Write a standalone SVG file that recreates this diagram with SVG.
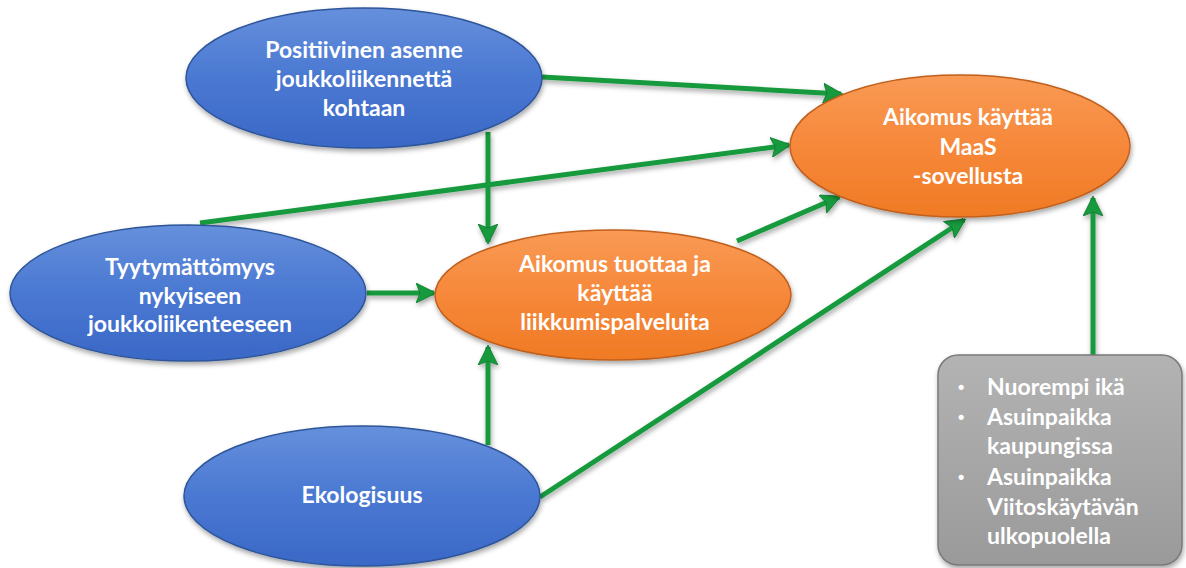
<svg xmlns="http://www.w3.org/2000/svg" width="1186" height="568" viewBox="0 0 1186 568">
<style>
.lbl{font-family:Lato,"Liberation Sans",sans-serif;font-weight:bold;font-size:23px;fill:#ffffff;text-anchor:middle}
.box{font-family:Lato,"Liberation Sans",sans-serif;font-weight:bold;font-size:23px;fill:#ffffff}
.bul{font-family:"Liberation Sans",sans-serif;font-weight:bold;font-size:18px;fill:#ffffff}
.blue{fill:url(#gBlue);stroke:#2d5599;stroke-width:1.5}
.orange{fill:url(#gOrange);stroke:#c0601c;stroke-width:1.5}
.conn{stroke:#169a3c;stroke-width:5;fill:none;marker-end:url(#ah)}
</style>
<defs>
<linearGradient id="gBlue" x1="0" y1="0" x2="0" y2="1">
<stop offset="0" stop-color="#6690dc"/><stop offset="0.5" stop-color="#4a78d2"/><stop offset="1" stop-color="#3a68c6"/>
</linearGradient>
<linearGradient id="gOrange" x1="0" y1="0" x2="0" y2="1">
<stop offset="0" stop-color="#f99a55"/><stop offset="0.5" stop-color="#f6883a"/><stop offset="1" stop-color="#f07a24"/>
</linearGradient>
<linearGradient id="gGray" x1="0" y1="0" x2="0" y2="1">
<stop offset="0" stop-color="#b3b3b3"/><stop offset="1" stop-color="#9a9a9a"/>
</linearGradient>
<filter id="sh" x="-10%" y="-10%" width="120%" height="130%">
<feDropShadow dx="1" dy="3" stdDeviation="2.5" flood-color="#000" flood-opacity="0.35"/>
</filter>
<marker id="ah" viewBox="0 0 10 10" refX="9" refY="5" markerWidth="4" markerHeight="4" orient="auto" markerUnits="strokeWidth">
<path d="M0,0 L10,5 L0,10 L2,5 Z" fill="#169a3c" stroke="#0f7a2e" stroke-width="0.4"/>
</marker>
</defs>

<g id="connectors" filter="url(#sh)">
<line class="conn" x1="542" y1="77" x2="841" y2="94"/>
<line class="conn" x1="488" y1="132" x2="488" y2="242"/>
<line class="conn" x1="200" y1="223" x2="789" y2="145"/>
<line class="conn" x1="367" y1="293" x2="434" y2="293"/>
<line class="conn" x1="488" y1="445" x2="488" y2="347"/>
<line class="conn" x1="540" y1="497" x2="964" y2="220"/>
<line class="conn" x1="737" y1="241" x2="839" y2="197"/>
<line class="conn" x1="1093" y1="356" x2="1093" y2="198"/>
</g>

<g id="node-positiivinen">
<ellipse class="blue" cx="364" cy="78" rx="178" ry="70" filter="url(#sh)"/>
<text class="lbl" x="364" y="58">Positiivinen asenne</text>
<text class="lbl" x="364" y="87">joukkoliikennettä</text>
<text class="lbl" x="364" y="116">kohtaan</text>
</g>

<g id="node-tyytymattomyys">
<ellipse class="blue" cx="188" cy="293" rx="178" ry="68" filter="url(#sh)"/>
<text class="lbl" x="190" y="275">Tyytymättömyys</text>
<text class="lbl" x="190" y="304">nykyiseen</text>
<text class="lbl" x="190" y="332">joukkoliikenteeseen</text>
</g>

<g id="node-ekologisuus">
<ellipse class="blue" cx="362" cy="496" rx="178" ry="70" filter="url(#sh)"/>
<text class="lbl" x="362" y="503">Ekologisuus</text>
</g>

<g id="node-tuottaa">
<ellipse class="orange" cx="613" cy="295" rx="178" ry="65" filter="url(#sh)"/>
<text class="lbl" x="615" y="272">Aikomus tuottaa ja</text>
<text class="lbl" x="615" y="301">käyttää</text>
<text class="lbl" x="615" y="330">liikkumispalveluita</text>
</g>

<g id="node-maas">
<ellipse class="orange" cx="960" cy="146" rx="170" ry="71" filter="url(#sh)"/>
<text class="lbl" x="968" y="125">Aikomus käyttää</text>
<text class="lbl" x="968" y="155">MaaS</text>
<text class="lbl" x="968" y="184">-sovellusta</text>
</g>

<g id="node-tekijat">
<rect x="938" y="355" width="244" height="210" rx="20" ry="20" fill="url(#gGray)" stroke="#7a7a7a" stroke-width="1.5" filter="url(#sh)"/>
<text class="bul" x="958" y="393">•</text>
<text class="box" x="987" y="395">Nuorempi ikä</text>
<text class="bul" x="958" y="423">•</text>
<text class="box" x="987" y="425">Asuinpaikka</text>
<text class="box" x="987" y="454">kaupungissa</text>
<text class="bul" x="958" y="483">•</text>
<text class="box" x="987" y="485">Asuinpaikka</text>
<text class="box" x="987" y="515">Viitoskäytävän</text>
<text class="box" x="987" y="544">ulkopuolella</text>
</g>
</svg>
